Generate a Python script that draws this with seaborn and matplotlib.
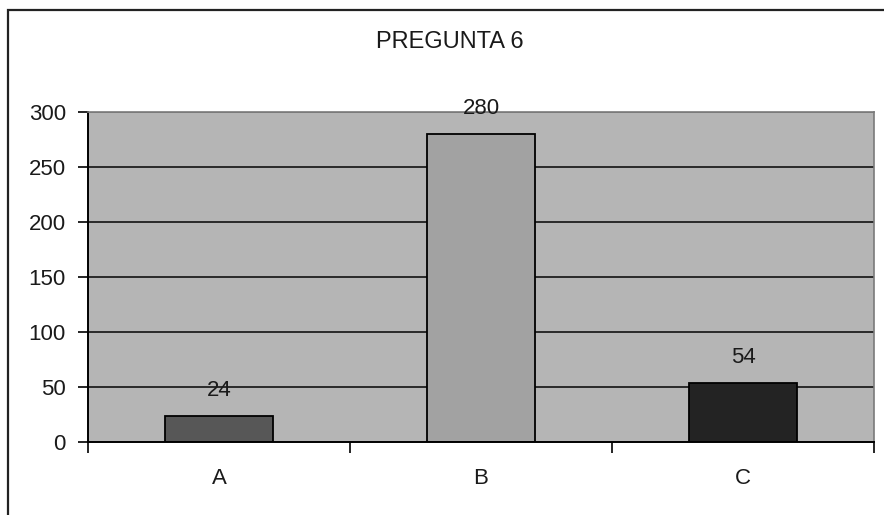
import matplotlib
matplotlib.use("Agg")
import matplotlib.pyplot as plt
import seaborn as sns
import pandas as pd
from matplotlib.patches import Rectangle

categories = ["A", "B", "C"]
values = [24, 280, 54]
bar_colors = ["#575757", "#a2a2a2", "#232323"]
y_ticks = [0, 50, 100, 150, 200, 250, 300]
title = "PREGUNTA 6"

sns.set_theme(style="white")
plt.rcParams["font.family"] = ["Liberation Sans", "DejaVu Sans"]

df = pd.DataFrame({"cat": categories, "val": values})

fig = plt.figure(figsize=(8.84, 5.15), dpi=100)
W, H = 884, 515
ax = fig.add_axes([88 / W, 1 - 442 / H, (874 - 88) / W, (442 - 112) / H])
ax.set_facecolor("#b5b5b5")

# horizontal grid lines drawn under the bars
for t in y_ticks[1:]:
    ax.axhline(t, color="#2a2a2a" if t < 300 else "#7a7a7a", lw=1.4, zorder=0.5)

sns.barplot(data=df, x="cat", y="val", hue="cat", palette=bar_colors,
            width=0.41, edgecolor="black", linewidth=1.3, legend=False,
            ax=ax, zorder=2)

ax.set_xlim(-0.5, 2.5)
ax.set_ylim(0, 300)
ax.set_yticks(y_ticks)
ax.set_yticklabels([str(t) for t in y_ticks], fontsize=16, color="#1a1a1a")
ax.set_xticks(range(len(categories)))
ax.set_xticklabels(categories, fontsize=16, color="#1a1a1a")
ax.tick_params(axis="x", length=0, pad=19)
ax.tick_params(axis="y", length=7, width=1.2, color="black", pad=9, left=True)
ax.set_xticks([-0.5, 0.5, 1.5, 2.5], minor=True)
ax.tick_params(axis="x", which="minor", length=8, width=1.2, color="black", bottom=True)
ax.set_xlabel("")
ax.set_ylabel("")

for s in ["left", "bottom"]:
    ax.spines[s].set_color("black")
    ax.spines[s].set_linewidth(1.4)
for s in ["top", "right"]:
    ax.spines[s].set_color("#7a7a7a")
    ax.spines[s].set_linewidth(1.2)

for i, v in enumerate(values):
    ax.annotate(str(v), (i, v), xytext=(0, 18), textcoords="offset points",
                ha="center", va="center", fontsize=16, color="#1a1a1a", zorder=3)

fig.text(450 / W, 1 - 42 / H, title, ha="center", va="center", fontsize=17, color="#1a1a1a")

# outer chart frame
fig.patches.append(Rectangle((8 / W, -0.05), 1.0, 1 - 10 / H + 0.05,
                             transform=fig.transFigure, fill=False,
                             edgecolor="#222222", lw=1.6))

fig.savefig("out.png", dpi=100)
